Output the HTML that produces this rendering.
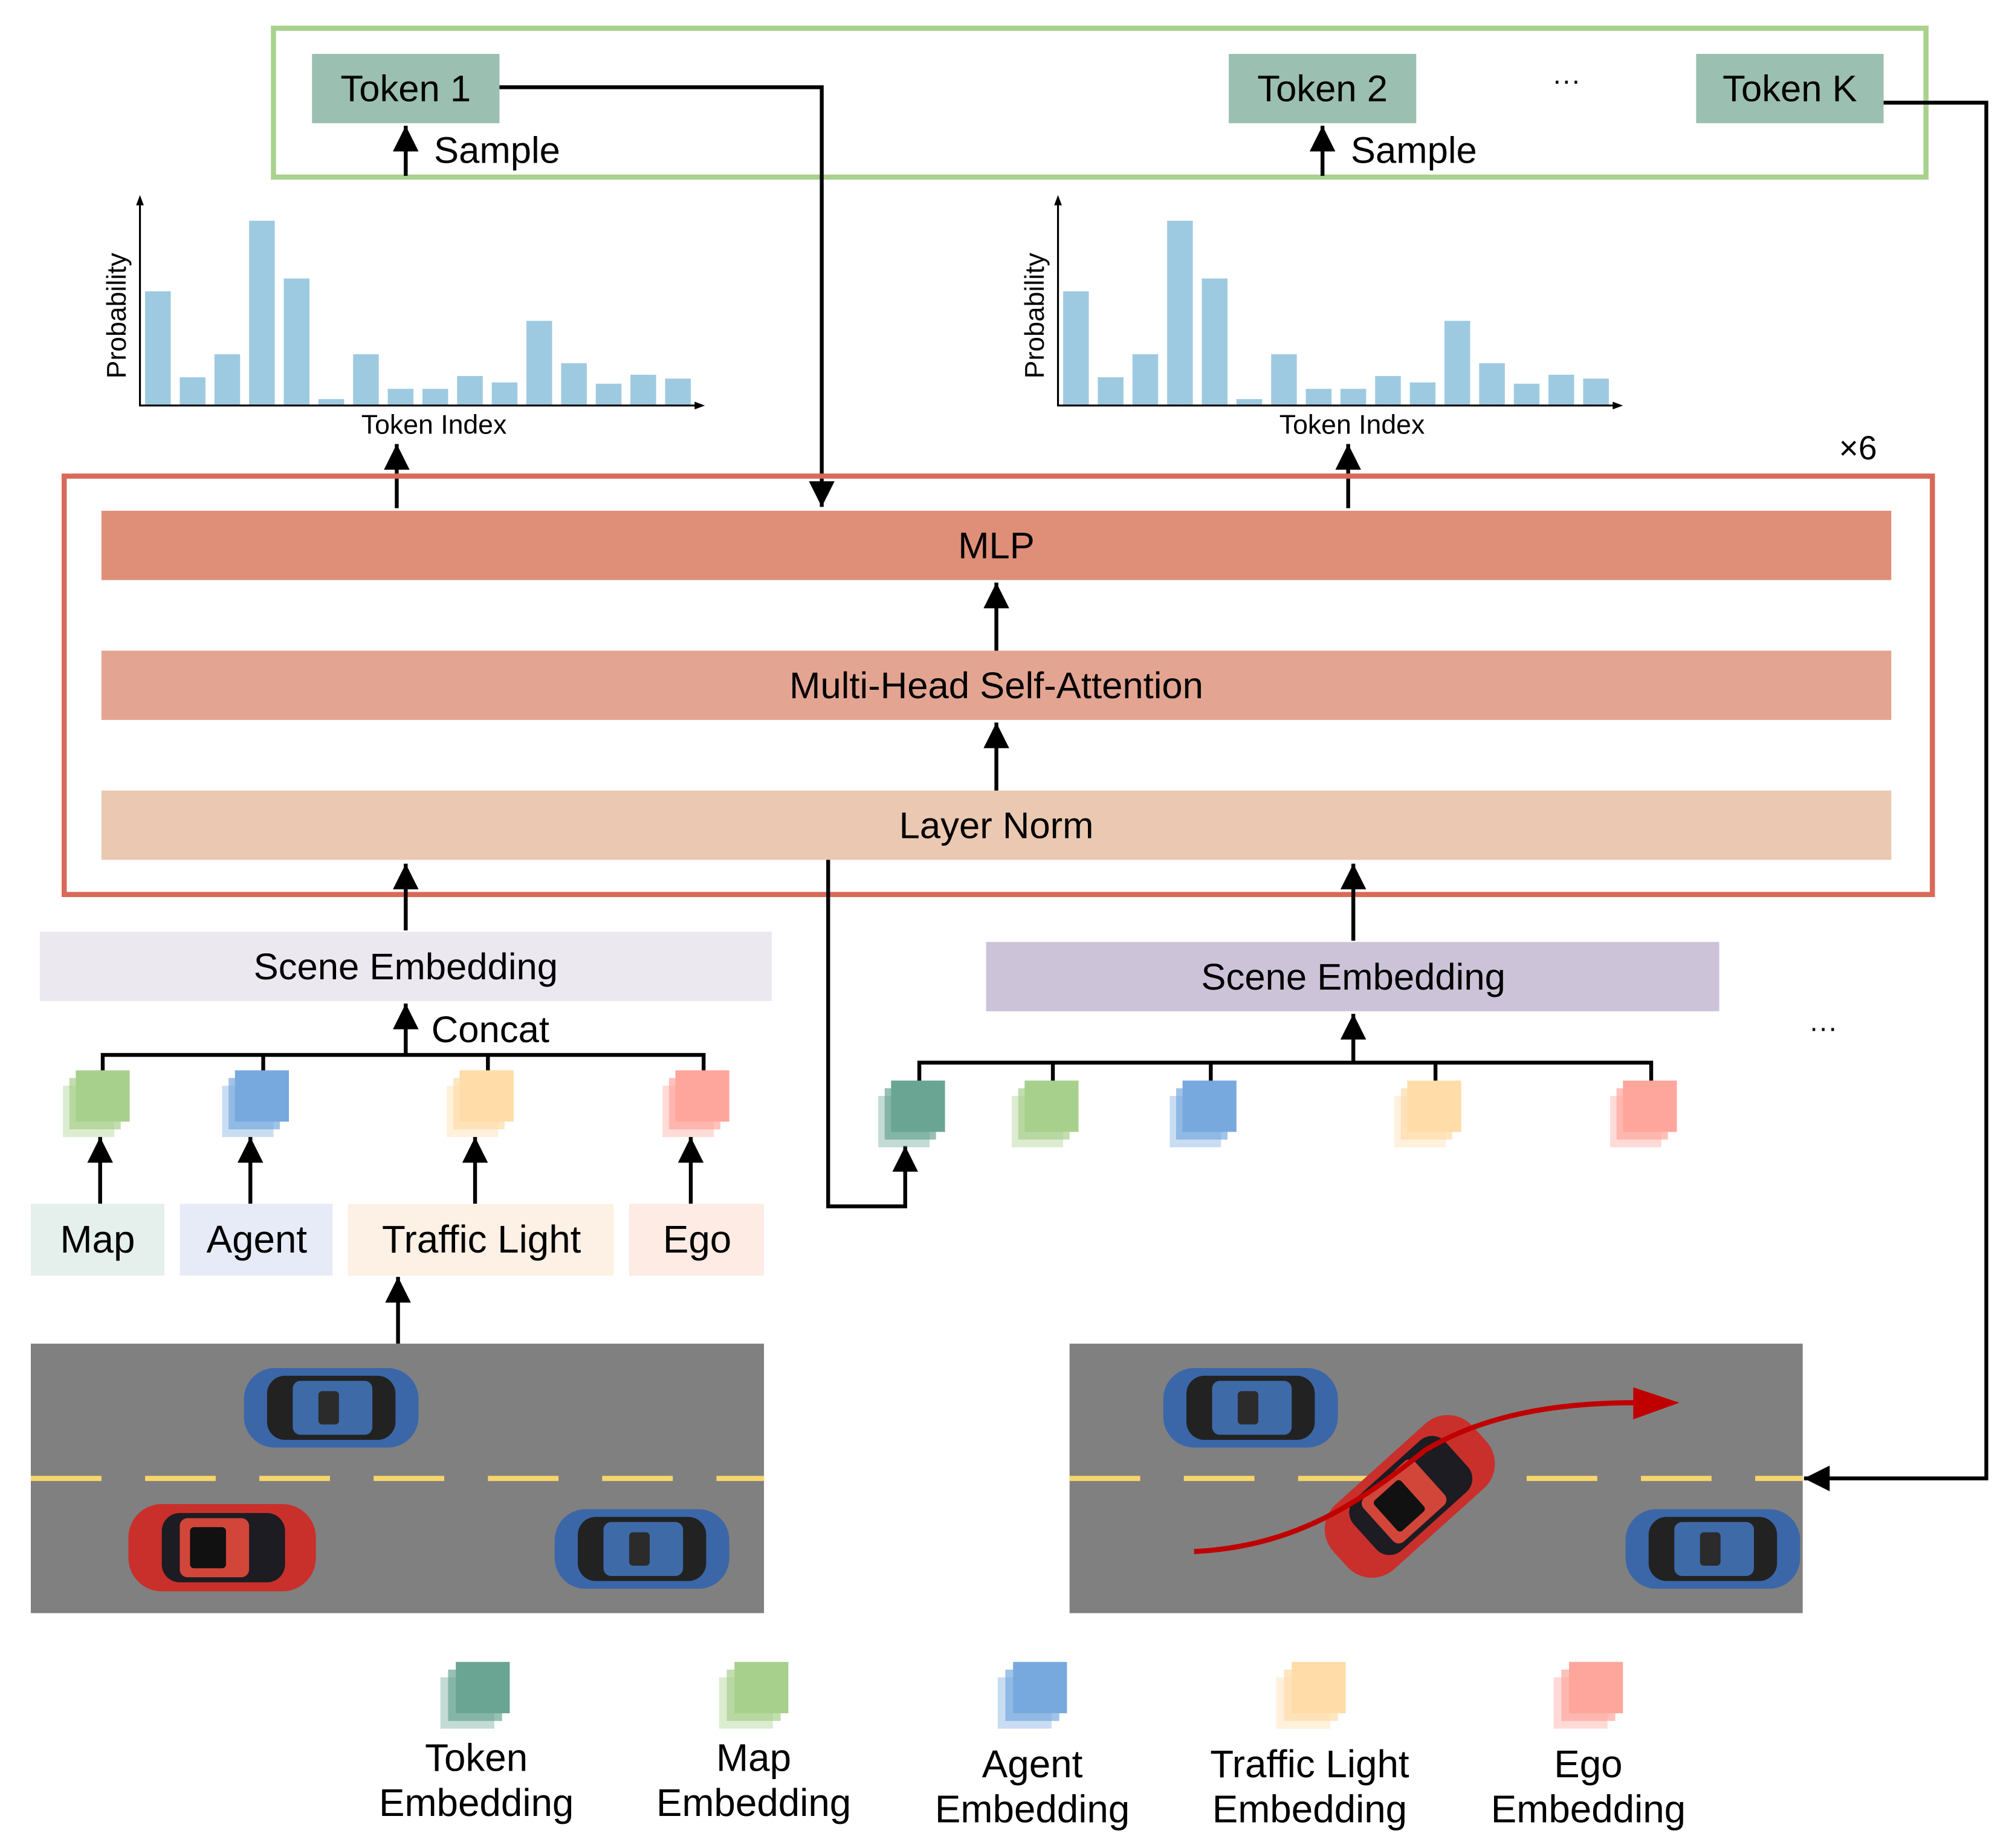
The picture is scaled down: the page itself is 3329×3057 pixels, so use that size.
<!DOCTYPE html>
<html><head><meta charset="utf-8"><style>
html,body{margin:0;padding:0;background:#fff}
svg{display:block}
text{font-family:"Liberation Sans",sans-serif;fill:#000}
</style></head><body>
<svg width="3329" height="3057" viewBox="0 0 1567 1440" preserveAspectRatio="none" xmlns="http://www.w3.org/2000/svg">
<defs>
<marker id="ah" viewBox="0 0 10 10" refX="10" refY="5" markerWidth="24" markerHeight="20" orient="auto" markerUnits="userSpaceOnUse"><path d="M0,0L10,5L0,10z"/></marker>
<g id="bcar">
<rect x="0" y="0" width="136" height="62" rx="24" fill="#3b67a8"/>
<rect x="18" y="6" width="100" height="50" rx="14" fill="#222"/>
<rect x="38" y="10" width="62" height="42" rx="6" fill="#3e6aa8"/>
<rect x="58" y="18" width="16" height="26" rx="3" fill="#2b2b2b"/>
</g>
<g id="rcar">
<rect x="0" y="0" width="146" height="68" rx="26" fill="#c9302c"/>
<rect x="26" y="7" width="96" height="54" rx="14" fill="#1c1c22"/>
<rect x="40" y="11" width="54" height="46" rx="6" fill="#d2463a"/>
<rect x="48" y="18" width="28" height="32" rx="3" fill="#111"/>
</g>
</defs>

<rect x="213" y="22" width="1287" height="116" fill="none" stroke="#a9d18e" stroke-width="4"/>
<rect x="243" y="42" width="146" height="54" fill="#9bbfb0"/>
<text x="316" y="79" font-size="29" text-anchor="middle">Token 1</text>
<rect x="957" y="42" width="146" height="54" fill="#9bbfb0"/>
<text x="1030" y="79" font-size="29" text-anchor="middle">Token 2</text>
<rect x="1321" y="42" width="146" height="54" fill="#9bbfb0"/>
<text x="1394" y="79" font-size="29" text-anchor="middle">Token K</text>
<text x="1220" y="70" font-size="22" text-anchor="middle">···</text>
<g stroke="#000" stroke-width="3" fill="none">
<line x1="316" y1="137" x2="316" y2="98" marker-end="url(#ah)"/>
<line x1="1030" y1="137" x2="1030" y2="98" marker-end="url(#ah)"/>
<polyline points="389,68 640,68 640,395" marker-end="url(#ah)"/>
<polyline points="1467,80 1547,80 1547,1152 1405,1152" marker-end="url(#ah)"/>
</g>
<text x="338" y="127" font-size="29">Sample</text>
<text x="1052" y="127" font-size="29">Sample</text>

<g id="chart">
<g fill="#9ecae1">
<rect x="113" y="227" width="20" height="89"/><rect x="140" y="294" width="20" height="22"/>
<rect x="167" y="276" width="20" height="40"/><rect x="194" y="172" width="20" height="144"/>
<rect x="221" y="217" width="20" height="99"/><rect x="248" y="311" width="20" height="5"/>
<rect x="275" y="276" width="20" height="40"/><rect x="302" y="303" width="20" height="13"/>
<rect x="329" y="303" width="20" height="13"/><rect x="356" y="293" width="20" height="23"/>
<rect x="383" y="298" width="20" height="18"/><rect x="410" y="250" width="20" height="66"/>
<rect x="437" y="283" width="20" height="33"/><rect x="464" y="299" width="20" height="17"/>
<rect x="491" y="292" width="20" height="24"/><rect x="518" y="295" width="20" height="21"/>
</g>
<polyline points="109,155 109,316 546,316" fill="none" stroke="#000" stroke-width="1.5"/>
<path d="M106,160L109,152L112,160z M541,313L549,316L541,319z"/>
<text x="338" y="338" font-size="21" text-anchor="middle">Token Index</text>
<text transform="translate(98,246) rotate(-90)" font-size="21" text-anchor="middle">Probability</text>
</g>
<use href="#chart" transform="translate(715,0)"/>

<g stroke="#000" stroke-width="3" fill="none">
<line x1="309" y1="396" x2="309" y2="346" marker-end="url(#ah)"/>
<line x1="1050" y1="396" x2="1050" y2="346" marker-end="url(#ah)"/>
</g>
<text x="1447" y="358" font-size="26" text-anchor="middle">×6</text>

<rect x="50" y="371" width="1455" height="326" fill="none" stroke="#d9695a" stroke-width="4"/>
<rect x="79" y="398" width="1394" height="54" fill="#df8f78"/>
<text x="776" y="435" font-size="29" text-anchor="middle">MLP</text>
<rect x="79" y="507" width="1394" height="54" fill="#e3a592"/>
<text x="776" y="544" font-size="29" text-anchor="middle">Multi-Head Self-Attention</text>
<rect x="79" y="616" width="1394" height="54" fill="#ebc8b1"/>
<text x="776" y="653" font-size="29" text-anchor="middle">Layer Norm</text>
<g stroke="#000" stroke-width="3" fill="none">
<line x1="776" y1="507" x2="776" y2="454" marker-end="url(#ah)"/>
<line x1="776" y1="616" x2="776" y2="563" marker-end="url(#ah)"/>
<line x1="316" y1="725" x2="316" y2="673" marker-end="url(#ah)"/>
<line x1="1054" y1="733" x2="1054" y2="673" marker-end="url(#ah)"/>
<polyline points="645,670 645,940 705,940 705,893" marker-end="url(#ah)"/>
</g>

<rect x="31" y="726" width="570" height="54" fill="#ebe8f0"/>
<text x="316" y="763" font-size="29" text-anchor="middle">Scene Embedding</text>
<rect x="768" y="734" width="571" height="54" fill="#ccc3d8"/>
<text x="1054" y="771" font-size="29" text-anchor="middle">Scene Embedding</text>
<text x="1420" y="808" font-size="22" text-anchor="middle">···</text>

<g stroke="#000" stroke-width="3" fill="none">
<line x1="316" y1="822" x2="316" y2="782" marker-end="url(#ah)"/>
<polyline points="80,836 80,822 548,822 548,836"/>
<line x1="205" y1="822" x2="205" y2="836"/><line x1="380" y1="822" x2="380" y2="836"/>
<line x1="1054" y1="828" x2="1054" y2="790" marker-end="url(#ah)"/>
<polyline points="716,842 716,828 1286,828 1286,842"/>
<line x1="820" y1="828" x2="820" y2="842"/><line x1="943" y1="828" x2="943" y2="842"/><line x1="1118" y1="828" x2="1118" y2="842"/>
</g>
<text x="336" y="812" font-size="29">Concat</text>

<g transform="translate(49,834)"><rect x="0" y="12" width="40" height="40" fill="#a8d08d" opacity="0.4"/><rect x="5" y="6" width="40" height="40" fill="#a8d08d" opacity="0.7"/><rect x="10" y="0" width="42" height="40" fill="#a8d08d"/></g>
<g transform="translate(173,834)"><rect x="0" y="12" width="40" height="40" fill="#78a9de" opacity="0.4"/><rect x="5" y="6" width="40" height="40" fill="#78a9de" opacity="0.7"/><rect x="10" y="0" width="42" height="40" fill="#78a9de"/></g>
<g transform="translate(348,834)"><rect x="0" y="12" width="40" height="40" fill="#ffdca8" opacity="0.4"/><rect x="5" y="6" width="40" height="40" fill="#ffdca8" opacity="0.7"/><rect x="10" y="0" width="42" height="40" fill="#ffdca8"/></g>
<g transform="translate(516,834)"><rect x="0" y="12" width="40" height="40" fill="#ffa69c" opacity="0.4"/><rect x="5" y="6" width="40" height="40" fill="#ffa69c" opacity="0.7"/><rect x="10" y="0" width="42" height="40" fill="#ffa69c"/></g>
<g transform="translate(684,842)"><rect x="0" y="12" width="40" height="40" fill="#6aa593" opacity="0.4"/><rect x="5" y="6" width="40" height="40" fill="#6aa593" opacity="0.7"/><rect x="10" y="0" width="42" height="40" fill="#6aa593"/></g>
<g transform="translate(788,842)"><rect x="0" y="12" width="40" height="40" fill="#a8d08d" opacity="0.4"/><rect x="5" y="6" width="40" height="40" fill="#a8d08d" opacity="0.7"/><rect x="10" y="0" width="42" height="40" fill="#a8d08d"/></g>
<g transform="translate(911,842)"><rect x="0" y="12" width="40" height="40" fill="#78a9de" opacity="0.4"/><rect x="5" y="6" width="40" height="40" fill="#78a9de" opacity="0.7"/><rect x="10" y="0" width="42" height="40" fill="#78a9de"/></g>
<g transform="translate(1086,842)"><rect x="0" y="12" width="40" height="40" fill="#ffdca8" opacity="0.4"/><rect x="5" y="6" width="40" height="40" fill="#ffdca8" opacity="0.7"/><rect x="10" y="0" width="42" height="40" fill="#ffdca8"/></g>
<g transform="translate(1254,842)"><rect x="0" y="12" width="40" height="40" fill="#ffa69c" opacity="0.4"/><rect x="5" y="6" width="40" height="40" fill="#ffa69c" opacity="0.7"/><rect x="10" y="0" width="42" height="40" fill="#ffa69c"/></g>

<g stroke="#000" stroke-width="3" fill="none">
<line x1="78" y1="938" x2="78" y2="886" marker-end="url(#ah)"/>
<line x1="195" y1="938" x2="195" y2="886" marker-end="url(#ah)"/>
<line x1="370" y1="938" x2="370" y2="886" marker-end="url(#ah)"/>
<line x1="538" y1="938" x2="538" y2="886" marker-end="url(#ah)"/>
<line x1="310" y1="1047" x2="310" y2="995" marker-end="url(#ah)"/>
</g>
<rect x="24" y="938" width="104" height="56" fill="#e5efec"/>
<text x="76" y="976" font-size="30" text-anchor="middle">Map</text>
<rect x="140" y="938" width="119" height="56" fill="#e6ebf7"/>
<text x="200" y="976" font-size="30" text-anchor="middle">Agent</text>
<rect x="271" y="938" width="207" height="56" fill="#fdf0e4"/>
<text x="375" y="976" font-size="30" text-anchor="middle">Traffic Light</text>
<rect x="490" y="938" width="105" height="56" fill="#fdebe4"/>
<text x="543" y="976" font-size="30" text-anchor="middle">Ego</text>

<rect x="24" y="1047" width="571" height="210" fill="#808080"/>
<line x1="24" y1="1152" x2="595" y2="1152" stroke="#f8d56a" stroke-width="4" stroke-dasharray="55,34"/>
<use href="#bcar" transform="translate(190,1066)"/>
<use href="#rcar" transform="translate(100,1172)"/>
<use href="#bcar" transform="translate(432,1176)"/>

<rect x="833" y="1047" width="571" height="210" fill="#808080"/>
<line x1="833" y1="1152" x2="1404" y2="1152" stroke="#f8d56a" stroke-width="4" stroke-dasharray="55,34"/>
<use href="#bcar" transform="translate(906,1066)"/>
<use href="#bcar" transform="translate(1266,1176)"/>
<g transform="translate(1098,1166) rotate(-42)"><use href="#rcar" transform="translate(-73,-34)"/></g>
<path d="M930,1209 C1010,1205 1060,1170 1110,1130 C1160,1100 1220,1093 1275,1093" fill="none" stroke="#c00000" stroke-width="4"/>
<path d="M1272,1081 L1308,1093 L1272,1106z" fill="#c00000"/>

<g transform="translate(343,1295)"><rect x="0" y="12" width="42" height="40" fill="#6aa593" opacity="0.4"/><rect x="6" y="6" width="42" height="40" fill="#6aa593" opacity="0.7"/><rect x="12" y="0" width="42" height="40" fill="#6aa593"/></g>
<g transform="translate(560,1295)"><rect x="0" y="12" width="42" height="40" fill="#a8d08d" opacity="0.4"/><rect x="6" y="6" width="42" height="40" fill="#a8d08d" opacity="0.7"/><rect x="12" y="0" width="42" height="40" fill="#a8d08d"/></g>
<g transform="translate(777,1295)"><rect x="0" y="12" width="42" height="40" fill="#78a9de" opacity="0.4"/><rect x="6" y="6" width="42" height="40" fill="#78a9de" opacity="0.7"/><rect x="12" y="0" width="42" height="40" fill="#78a9de"/></g>
<g transform="translate(994,1295)"><rect x="0" y="12" width="42" height="40" fill="#ffdca8" opacity="0.4"/><rect x="6" y="6" width="42" height="40" fill="#ffdca8" opacity="0.7"/><rect x="12" y="0" width="42" height="40" fill="#ffdca8"/></g>
<g transform="translate(1210,1295)"><rect x="0" y="12" width="42" height="40" fill="#ffa69c" opacity="0.4"/><rect x="6" y="6" width="42" height="40" fill="#ffa69c" opacity="0.7"/><rect x="12" y="0" width="42" height="40" fill="#ffa69c"/></g>
<g font-size="30" text-anchor="middle">
<text x="371" y="1380">Token</text><text x="371" y="1415">Embedding</text>
<text x="587" y="1380">Map</text><text x="587" y="1415">Embedding</text>
<text x="804" y="1385">Agent</text><text x="804" y="1420">Embedding</text>
<text x="1020" y="1385">Traffic Light</text><text x="1020" y="1420">Embedding</text>
<text x="1237" y="1385">Ego</text><text x="1237" y="1420">Embedding</text>
</g>
</svg>
</body></html>
